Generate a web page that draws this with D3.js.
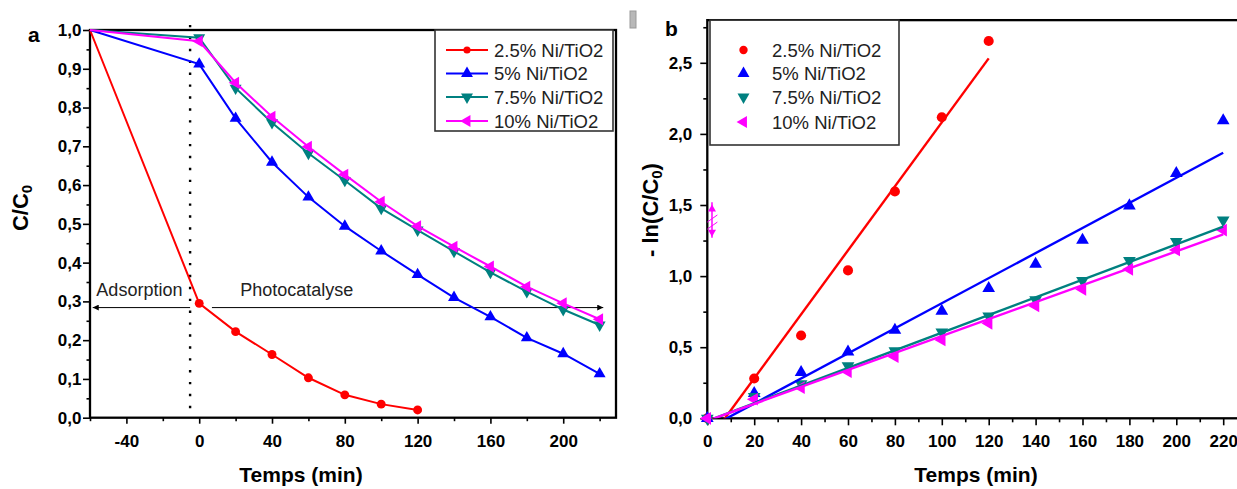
<!DOCTYPE html>
<html><head><meta charset="utf-8">
<script src="https://cdn.jsdelivr.net/npm/d3@7"></script>
<style>
html,body{margin:0;padding:0;background:#fff;}
svg{display:block;font-family:Arial,"Liberation Sans",sans-serif;}
</style></head>
<body>
<svg id="chart" width="1237" height="489"></svg>
<script>
// ---------- DATA ----------
const seriesNames = ["2.5% Ni/TiO2", "5% Ni/TiO2", "7.5% Ni/TiO2", "10% Ni/TiO2"];
const seriesColors = ["#ff0000", "#0000ff", "#008080", "#ff00ff"];
const seriesShapes = ["circle", "up", "down", "left"];

// Panel a: C/C0 vs time
const timeA = [-60, 0, 20, 40, 60, 80, 100, 120, 140, 160, 180, 200, 220];
const redA  = [1.0, 0.295, 0.222, 0.163, 0.103, 0.059, 0.035, 0.02];
const blueA = [1.0, 0.912, 0.772, 0.659, 0.569, 0.494, 0.43, 0.369, 0.31, 0.26, 0.206, 0.165, 0.113];
const tealA = [1.0, 0.98, 0.85, 0.761, 0.682, 0.612, 0.54, 0.484, 0.429, 0.375, 0.325, 0.279, 0.239];
const magA  = [1.0, 0.971, 0.864, 0.776, 0.699, 0.627, 0.557, 0.494, 0.441, 0.39, 0.338, 0.295, 0.254];

// Panel b: -ln(C/C0) vs time
const timeB = [0, 20, 40, 60, 80, 100, 120, 140, 160, 180, 200, 220];
const redB  = [0, 0.28, 0.582, 1.04, 1.595, 2.117, 2.653];
const blueB = [0, 0.175, 0.323, 0.468, 0.621, 0.754, 0.914, 1.085, 1.254, 1.495, 1.723, 2.093];
const tealB = [0, 0.152, 0.241, 0.368, 0.473, 0.605, 0.719, 0.832, 0.968, 1.108, 1.242, 1.394];
const magB  = [0, 0.134, 0.215, 0.328, 0.433, 0.551, 0.668, 0.79, 0.907, 1.048, 1.184, 1.324];

// linear fits for panel b
const fitSlope     = [0.0225, 0.00882, 0.00621, 0.00596];
const fitIntercept = [-0.169, -0.073, -0.019, -0.018];
const fitEnd       = [120, 220, 220, 220];

// ticks
const xTicksA = [-40, 0, 40, 80, 120, 160, 200];
const xMinorA = [-60, -20, 20, 60, 100, 140, 180, 220];
const yTicksA = [0, 0.1, 0.2, 0.3, 0.4, 0.5, 0.6, 0.7, 0.8, 0.9, 1.0];
const yMinorA = [0.05, 0.15, 0.25, 0.35, 0.45, 0.55, 0.65, 0.75, 0.85, 0.95];
const xTicksB = [0, 20, 40, 60, 80, 100, 120, 140, 160, 180, 200, 220];
const xMinorB = [10, 30, 50, 70, 90, 110, 130, 150, 170, 190, 210];
const yTicksB = [0, 0.5, 1.0, 1.5, 2.0, 2.5];
const yMinorB = [0.25, 0.75, 1.25, 1.75, 2.25, 2.75];

// annotations
const adsorptionT = -5;
const arrowLevel = 0.284;

// ---------- DRAW ----------
const svg = d3.select("#chart");
const FONT = 'Arial,"Liberation Sans",sans-serif';
const commaFmt = d => d3.format(".1f")(d).replace(".", ",");

function marker(g, shape, color, x, y, size) {
  if (shape === "circle") {
    g.append("circle").attr("cx", x).attr("cy", y).attr("r", Math.sqrt(size / Math.PI)).attr("fill", color);
  } else {
    const rot = shape === "up" ? 0 : shape === "down" ? 180 : -90;
    g.append("path").attr("d", d3.symbol().type(d3.symbolTriangle).size(size)())
      .attr("transform", `translate(${x},${y}) rotate(${rot})`).attr("fill", color);
  }
}

function styleAxis(g, fs) {
  g.select(".domain").remove();
  g.selectAll(".tick line").attr("stroke", "#000").attr("stroke-width", 1.6);
  g.selectAll(".tick text").attr("fill", "#000").attr("font-size", fs).attr("font-weight", "bold").attr("font-family", FONT);
}

// ===== Panel a =====
const xA = d3.scaleLinear().domain([-60, 229]).range([90, 616]);
const yA = d3.scaleLinear().domain([0, 1]).range([417.7, 30]);
const gA = svg.append("g");

// axes ticks
const axXA = gA.append("g").attr("transform", `translate(0,${yA(0)})`)
  .call(d3.axisBottom(xA).tickValues(xTicksA).tickSize(6).tickPadding(11).tickFormat(d => d));
styleAxis(axXA, 17);
const axXAm = gA.append("g").attr("transform", `translate(0,${yA(0)})`)
  .call(d3.axisBottom(xA).tickValues(xMinorA).tickSize(3.5).tickFormat(""));
styleAxis(axXAm, 17);
const axYA = gA.append("g").attr("transform", `translate(${xA(-60)},0)`)
  .call(d3.axisLeft(yA).tickValues(yTicksA).tickSize(7).tickPadding(1.5).tickFormat(commaFmt));
styleAxis(axYA, 17);
const axYAm = gA.append("g").attr("transform", `translate(${xA(-60)},0)`)
  .call(d3.axisLeft(yA).tickValues(yMinorA).tickSize(3.5).tickFormat(""));
styleAxis(axYAm, 17);

// frame
gA.append("rect").attr("x", xA(-60)).attr("y", yA(1)).attr("width", xA(229) - xA(-60)).attr("height", yA(0) - yA(1))
  .attr("fill", "none").attr("stroke", "#000").attr("stroke-width", 2.3);

// dotted adsorption line
gA.append("line").attr("x1", xA(adsorptionT)).attr("x2", xA(adsorptionT))
  .attr("y1", yA(1.013)).attr("y2", yA(0))
  .attr("stroke", "#000").attr("stroke-width", 2.4).attr("stroke-dasharray", "2.4,9.5");

// arrows
const defs = svg.append("defs");
defs.append("marker").attr("id", "arr").attr("viewBox", "0 0 10 10").attr("refX", 10).attr("refY", 5)
  .attr("markerWidth", 9).attr("markerHeight", 6).attr("markerUnits", "userSpaceOnUse").attr("orient", "auto")
  .append("path").attr("d", "M0,0 L10,5 L0,10 z").attr("fill", "#000");
gA.append("line").attr("x1", xA(adsorptionT)).attr("x2", xA(-58.5)).attr("y1", yA(arrowLevel)).attr("y2", yA(arrowLevel))
  .attr("stroke", "#000").attr("stroke-width", 1).attr("marker-end", "url(#arr)");
gA.append("line").attr("x1", xA(7)).attr("x2", xA(222)).attr("y1", yA(arrowLevel)).attr("y2", yA(arrowLevel))
  .attr("stroke", "#000").attr("stroke-width", 1).attr("marker-end", "url(#arr)");
gA.append("text").attr("x", xA(-56.5)).attr("y", 295.5).attr("font-size", 18).attr("font-family", FONT).attr("fill", "#222").text("Adsorption");
gA.append("text").attr("x", xA(22.5)).attr("y", 295.5).attr("font-size", 18).attr("font-family", FONT).attr("fill", "#222").text("Photocatalyse");

// series
const seriesA = [redA, blueA, tealA, magA];
const lineA = d3.line().x(d => xA(d[0])).y(d => yA(d[1]));
seriesA.forEach((vals, i) => {
  const pts = vals.map((v, j) => [timeA[j], v]);
  gA.append("path").attr("d", lineA(pts)).attr("fill", "none").attr("stroke", seriesColors[i]).attr("stroke-width", 2);
  const mg = gA.append("g");
  pts.slice(1).forEach(p => marker(mg, seriesShapes[i], seriesColors[i], xA(p[0]), yA(p[1]), i === 0 ? 62 : 62));
});

// legend a
const legA = gA.append("g");
legA.append("rect").attr("x", 435).attr("y", 30).attr("width", 178).attr("height", 101)
  .attr("fill", "#fff").attr("stroke", "#333").attr("stroke-width", 1.6);
const legRowsA = [50, 73.5, 97, 121];
seriesNames.forEach((n, i) => {
  const y = legRowsA[i];
  legA.append("line").attr("x1", 446).attr("x2", 488).attr("y1", y).attr("y2", y).attr("stroke", seriesColors[i]).attr("stroke-width", 2);
  marker(legA, seriesShapes[i], seriesColors[i], 467, y, i === 0 ? 40 : 62);
  legA.append("text").attr("x", 494).attr("y", y + 6.5).attr("font-size", 18.5).attr("font-family", FONT).attr("fill", "#222").text(n);
});

// titles a
gA.append("text").attr("x", 301).attr("y", 482).attr("text-anchor", "middle").attr("font-size", 21).attr("font-weight", "bold").attr("font-family", FONT).text("Temps (min)");
const ytA = gA.append("text").attr("transform", "translate(28,208) rotate(-90)").attr("text-anchor", "middle")
  .attr("font-size", 22).attr("font-weight", "bold").attr("font-family", FONT);
ytA.append("tspan").text("C/C");
ytA.append("tspan").attr("font-size", 15).attr("dy", 4).text("0");
gA.append("text").attr("x", 28).attr("y", 42).attr("font-size", 21).attr("font-weight", "bold").attr("font-family", FONT).text("a");

// ===== Panel b =====
const xB = d3.scaleLinear().domain([0, 230]).range([707.3, 707.3 + 230 * 2.345]);
const yB = d3.scaleLinear().domain([0, 2.8]).range([418.3, 418.3 - 2.8 * 142.2]);
const gB = svg.append("g");

const axXB = gB.append("g").attr("transform", `translate(0,${yB(0)})`)
  .call(d3.axisBottom(xB).tickValues(xTicksB).tickSize(7).tickPadding(10).tickFormat(d => d));
styleAxis(axXB, 17);
const axXBm = gB.append("g").attr("transform", `translate(0,${yB(0)})`)
  .call(d3.axisBottom(xB).tickValues(xMinorB).tickSize(4).tickFormat(""));
styleAxis(axXBm, 17);
const axYB = gB.append("g").attr("transform", `translate(${xB(0)},0)`)
  .call(d3.axisLeft(yB).tickValues(yTicksB).tickSize(7).tickPadding(8).tickFormat(commaFmt));
styleAxis(axYB, 17);
const axYBm = gB.append("g").attr("transform", `translate(${xB(0)},0)`)
  .call(d3.axisLeft(yB).tickValues(yMinorB).tickSize(4).tickFormat(""));
styleAxis(axYBm, 17);

gB.append("rect").attr("x", xB(0)).attr("y", yB(2.8)).attr("width", xB(230) - xB(0)).attr("height", yB(0) - yB(2.8))
  .attr("fill", "none").attr("stroke", "#000").attr("stroke-width", 2.3);

defs.append("clipPath").attr("id", "clipB").append("rect")
  .attr("x", xB(0)).attr("y", yB(2.8)).attr("width", xB(230) - xB(0)).attr("height", yB(0) - yB(2.8));

const seriesB = [redB, blueB, tealB, magB];
seriesB.forEach((vals, i) => {
  const mg = gB.append("g");
  vals.forEach((v, j) => marker(mg, seriesShapes[i], seriesColors[i], xB(timeB[j]), yB(v), i === 0 ? 80 : 70));
});
seriesB.forEach((vals, i) => {
  const fitPts = [0, fitEnd[i]].map(t => [t, fitIntercept[i] + fitSlope[i] * t]);
  gB.append("path").attr("clip-path", "url(#clipB)")
    .attr("d", d3.line().x(d => xB(d[0])).y(d => yB(d[1]))(fitPts))
    .attr("fill", "none").attr("stroke", seriesColors[i]).attr("stroke-width", 2.4);
});

// legend b
const legB = gB.append("g");
legB.append("rect").attr("x", 710).attr("y", yB(2.8)).attr("width", 189).attr("height", 145 - yB(2.8))
  .attr("fill", "#fff").attr("stroke", "#333").attr("stroke-width", 1.6);
const legRowsB = [50, 73.5, 97, 122];
seriesNames.forEach((n, i) => {
  const y = legRowsB[i];
  marker(legB, seriesShapes[i], seriesColors[i], 743.5, y, i === 0 ? 55 : 62);
  legB.append("text").attr("x", 772).attr("y", y + 6.5).attr("font-size", 18.5).attr("font-family", FONT).attr("fill", "#222").text(n);
});

// stray magenta glyph near the axis
const sg = gB.append("g").attr("stroke", "#ff00ff").attr("fill", "#ff00ff");
sg.append("line").attr("x1", xB(2)).attr("x2", xB(2)).attr("y1", yB(1.52)).attr("y2", yB(1.27)).attr("stroke-width", 1.5);
sg.append("path").attr("d", d3.symbol().type(d3.symbolTriangle).size(28)()).attr("transform", `translate(${xB(2)},${yB(1.47)})`).attr("stroke", "none");
sg.append("path").attr("d", d3.symbol().type(d3.symbolTriangle).size(28)()).attr("transform", `translate(${xB(2)},${yB(1.31)}) rotate(180)`).attr("stroke", "none");
sg.append("line").attr("x1", xB(0)).attr("x2", xB(4.3)).attr("y1", yB(1.38)).attr("y2", yB(1.43)).attr("stroke-width", 1);
sg.append("line").attr("x1", xB(0)).attr("x2", xB(4.3)).attr("y1", yB(1.33)).attr("y2", yB(1.38)).attr("stroke-width", 1);

// gray artifact
svg.append("rect").attr("x", 630).attr("y", 11).attr("width", 6).attr("height", 17).attr("fill", "#b8b8b8").attr("stroke", "#999").attr("stroke-width", 1);

// titles b
gB.append("text").attr("x", 976).attr("y", 482).attr("text-anchor", "middle").attr("font-size", 21).attr("font-weight", "bold").attr("font-family", FONT).text("Temps (min)");
const ytB = gB.append("text").attr("transform", "translate(658,210) rotate(-90)").attr("text-anchor", "middle")
  .attr("font-size", 22).attr("font-weight", "bold").attr("font-family", FONT);
ytB.append("tspan").text("- ln(C/C");
ytB.append("tspan").attr("font-size", 15).attr("dy", 4).text("0");
ytB.append("tspan").attr("dy", -4).text(")");
gB.append("text").attr("x", 665).attr("y", 36).attr("font-size", 21).attr("font-weight", "bold").attr("font-family", FONT).text("b");
</script>
</body></html>
